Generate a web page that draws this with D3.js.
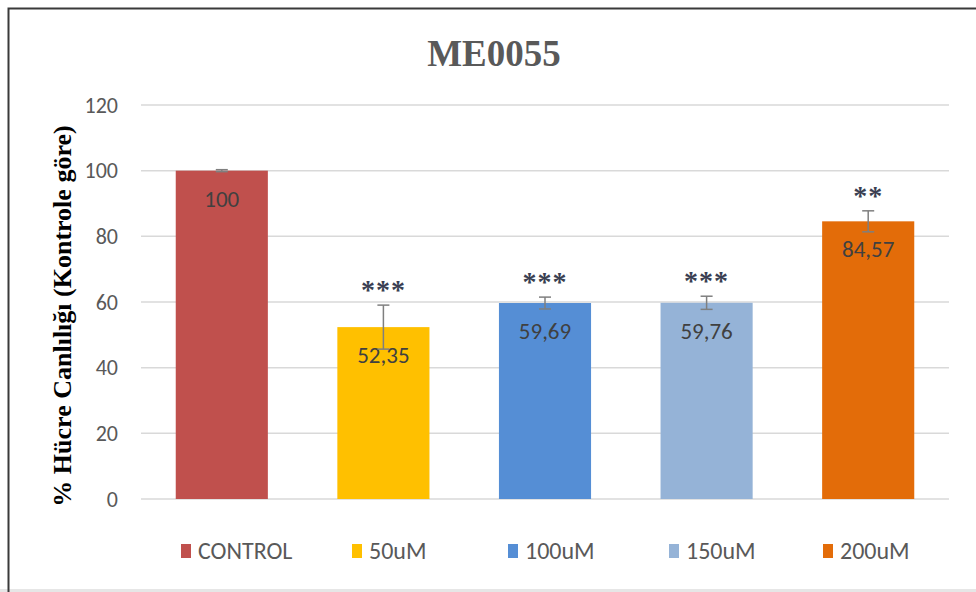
<!DOCTYPE html>
<html>
<head>
<meta charset="utf-8">
<script src="https://cdn.jsdelivr.net/npm/d3@7"></script>
<style>
  body { margin: 0; background: #fff; }
  svg { display: block; }
</style>
</head>
<body>
<div id="chart"></div>
<script>
const categories = ["CONTROL", "50uM", "100uM", "150uM", "200uM"];
const values = [100, 52.35, 59.69, 59.76, 84.57];
const errors = [0.3, 6.7, 1.8, 2.0, 3.2];
const valueLabels = ["100", "52,35", "59,69", "59,76", "84,57"];
const stars = ["", "***", "***", "***", "**"];
const colors = ["#C0504D", "#FFC000", "#558ED5", "#95B3D7", "#E36C09"];
const yTicks = [0, 20, 40, 60, 80, 100, 120];

const width = 976, height = 592;
const margin = { left: 141, right: 27, top: 105, bottom: 93 };
const sansFont = "Carlito, 'Liberation Sans', 'Open Sans', sans-serif";
const serifFont = "'Liberation Serif', 'Times New Roman', serif";

const svg = d3.select("#chart").append("svg")
    .attr("width", width)
    .attr("height", height);

// chart frame (screenshot border + spreadsheet strip at bottom)
svg.append("rect")
    .attr("x", 0).attr("y", 589)
    .attr("width", width).attr("height", 3)
    .attr("fill", "#e6e6e6");
svg.append("path")
    .attr("d", `M8.5,592 V8.5 H${width}`)
    .attr("fill", "none")
    .attr("stroke", "#3a3a3a")
    .attr("stroke-width", 2);

const x = d3.scaleBand()
    .domain(categories)
    .range([margin.left, width - margin.right])
    .paddingInner(0.43)
    .paddingOuter(0.215);

const y = d3.scaleLinear()
    .domain([0, 120])
    .range([height - margin.bottom, margin.top]);

// gridlines
svg.append("g")
    .selectAll("line")
    .data(yTicks)
    .join("line")
    .attr("x1", margin.left)
    .attr("x2", width - margin.right)
    .attr("y1", d => y(d))
    .attr("y2", d => y(d))
    .attr("stroke", "#d9d9d9")
    .attr("stroke-width", 1.5);

// y axis tick labels
const yAxis = d3.axisLeft(y).tickValues(yTicks).tickSize(0).tickPadding(0);
const yg = svg.append("g")
    .attr("transform", `translate(118,0)`)
    .call(yAxis);
yg.select(".domain").remove();
yg.selectAll("text")
    .attr("font-family", sansFont)
    .attr("font-size", "22px")
    .attr("fill", "#595959");

// bars
svg.append("g")
    .selectAll("rect")
    .data(categories)
    .join("rect")
    .attr("x", d => x(d))
    .attr("width", x.bandwidth())
    .attr("y", (d, i) => y(values[i]))
    .attr("height", (d, i) => y(0) - y(values[i]))
    .attr("fill", (d, i) => colors[i]);

// value labels inside bars
svg.append("g")
    .selectAll("text")
    .data(categories)
    .join("text")
    .attr("x", d => x(d) + x.bandwidth() / 2)
    .attr("y", (d, i) => y(values[i]) + 36)
    .attr("text-anchor", "middle")
    .attr("font-family", sansFont)
    .attr("font-size", "23px")
    .attr("fill", "#404040")
    .text((d, i) => valueLabels[i]);

// error bars
const eg = svg.append("g")
    .attr("stroke", "#7f7f7f")
    .attr("stroke-width", 1.5);
categories.forEach((c, i) => {
    const cx = x(c) + x.bandwidth() / 2;
    const top = y(values[i] + errors[i]);
    const bot = y(values[i] - errors[i]);
    eg.append("line").attr("x1", cx).attr("x2", cx).attr("y1", top).attr("y2", bot);
    eg.append("line").attr("x1", cx - 6).attr("x2", cx + 6).attr("y1", top).attr("y2", top);
    eg.append("line").attr("x1", cx - 6).attr("x2", cx + 6).attr("y1", bot).attr("y2", bot);
});

// significance stars
svg.append("g")
    .selectAll("text")
    .data(categories)
    .join("text")
    .attr("x", d => x(d) + x.bandwidth() / 2)
    .attr("y", (d, i) => y(values[i] + errors[i]) - 6)
    .attr("text-anchor", "middle")
    .attr("font-family", serifFont)
    .attr("font-weight", "bold")
    .attr("font-size", "28px")
    .attr("letter-spacing", "1px")
    .attr("fill", "#3a3f52")
    .text((d, i) => stars[i]);

// title
svg.append("text")
    .attr("x", 494)
    .attr("y", 66)
    .attr("text-anchor", "middle")
    .attr("font-family", serifFont)
    .attr("font-weight", "bold")
    .attr("font-size", "37px")
    .attr("fill", "#595959")
    .text("ME0055");

// y axis title
svg.append("text")
    .attr("transform", `translate(71,316) rotate(-90)`)
    .attr("text-anchor", "middle")
    .attr("font-family", serifFont)
    .attr("font-weight", "bold")
    .attr("font-size", "26px")
    .attr("fill", "#000")
    .text("% Hücre Canlılığı (Kontrole göre)");

// legend
const legendX = [181, 352, 508, 669, 823];
const lg = svg.append("g")
    .selectAll("g")
    .data(categories)
    .join("g")
    .attr("transform", (d, i) => `translate(${legendX[i]},551)`);
lg.append("rect")
    .attr("x", 0).attr("y", -7)
    .attr("width", 10).attr("height", 14)
    .attr("fill", (d, i) => colors[i]);
lg.append("text")
    .attr("x", 17)
    .attr("y", 8)
    .attr("font-family", sansFont)
    .attr("font-size", "24px")
    .attr("fill", "#595959")
    .text(d => d);
</script>
</body>
</html>
